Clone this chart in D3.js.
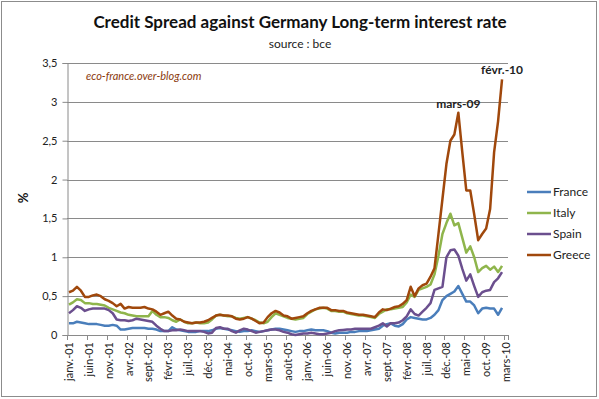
<!DOCTYPE html>
<html>
<head>
<meta charset="utf-8">
<script src="https://cdn.jsdelivr.net/npm/d3@7"></script>
<style>
  body { margin: 0; background: #fff; }
  svg { font-family: Lato, "Open Sans", sans-serif; }
</style>
</head>
<body>
<div id="chart"></div>
<script>
// month names used for the category axis
const monthNames = ["janv.", "févr.", "mars", "avr.", "mai", "juin", "juil.", "août", "sept.", "oct.", "nov.", "déc."];
const startYear = 2001;
const nCategories = 111; // janv.-01 .. mars-10

const yTicks = [0, 0.5, 1, 1.5, 2, 2.5, 3, 3.5];

// spread vs Germany, %, monthly from janv.-01 to févr.-10
const france = [
  0.15, 0.15, 0.17, 0.16, 0.15, 0.14, 0.14, 0.14, 0.13, 0.12,
  0.12, 0.13, 0.12, 0.07, 0.07, 0.08, 0.09, 0.09, 0.09, 0.09,
  0.08, 0.08, 0.07, 0.05, 0.05, 0.05, 0.10, 0.07, 0.06, 0.05,
  0.04, 0.04, 0.04, 0.05, 0.05, 0.05, 0.06, 0.08, 0.09, 0.08,
  0.07, 0.06, 0.05, 0.04, 0.05, 0.05, 0.06, 0.05, 0.04, 0.05,
  0.06, 0.07, 0.08, 0.08, 0.07, 0.06, 0.05, 0.04, 0.05, 0.05,
  0.06, 0.07, 0.06, 0.06, 0.06, 0.05, 0.03, 0.02, 0.03, 0.03,
  0.03, 0.04, 0.04, 0.05, 0.05, 0.05, 0.06, 0.07, 0.08, 0.12,
  0.14, 0.15, 0.12, 0.11, 0.14, 0.20, 0.23, 0.22, 0.21, 0.20,
  0.20, 0.22, 0.26, 0.32, 0.45, 0.50, 0.53, 0.56, 0.63, 0.53,
  0.43, 0.43, 0.38, 0.28, 0.34, 0.35, 0.34, 0.34, 0.26, 0.35
];
const italy = [
  0.39, 0.42, 0.46, 0.45, 0.41, 0.41, 0.40, 0.40, 0.39, 0.38,
  0.35, 0.33, 0.31, 0.29, 0.28, 0.26, 0.25, 0.24, 0.24, 0.24,
  0.24, 0.31, 0.26, 0.23, 0.23, 0.22, 0.19, 0.17, 0.20, 0.17,
  0.15, 0.15, 0.16, 0.15, 0.15, 0.16, 0.20, 0.25, 0.26, 0.25,
  0.24, 0.24, 0.22, 0.21, 0.22, 0.23, 0.21, 0.19, 0.16, 0.15,
  0.17, 0.23, 0.28, 0.26, 0.24, 0.22, 0.21, 0.20, 0.21, 0.22,
  0.27, 0.30, 0.33, 0.34, 0.35, 0.34, 0.31, 0.31, 0.30, 0.30,
  0.28, 0.27, 0.26, 0.25, 0.25, 0.24, 0.23, 0.22, 0.27, 0.30,
  0.33, 0.33, 0.34, 0.35, 0.36, 0.42, 0.52, 0.49, 0.58, 0.60,
  0.62, 0.65, 0.78, 1.02, 1.30, 1.44, 1.56, 1.41, 1.44, 1.25,
  1.06, 1.14, 1.00, 0.81, 0.86, 0.89, 0.84, 0.88, 0.81, 0.89
];
const spain = [
  0.28, 0.32, 0.37, 0.35, 0.31, 0.33, 0.34, 0.34, 0.34, 0.34,
  0.32, 0.28, 0.20, 0.19, 0.19, 0.18, 0.19, 0.21, 0.20, 0.19,
  0.18, 0.17, 0.12, 0.08, 0.05, 0.05, 0.06, 0.06, 0.07, 0.06,
  0.05, 0.05, 0.05, 0.05, 0.04, 0.02, 0.03, 0.09, 0.10, 0.08,
  0.08, 0.05, 0.03, 0.06, 0.08, 0.07, 0.05, 0.03, 0.04, 0.05,
  0.06, 0.07, 0.07, 0.06, 0.04, 0.03, 0.01, 0.00, 0.01, 0.02,
  0.02, 0.03, 0.02, 0.01, 0.01, 0.02, 0.03, 0.05, 0.06, 0.065,
  0.07, 0.07, 0.08, 0.08, 0.08, 0.08, 0.08, 0.10, 0.12, 0.15,
  0.11, 0.15, 0.15, 0.16, 0.19, 0.24, 0.33, 0.27, 0.25, 0.30,
  0.35, 0.41, 0.58, 0.60, 0.62, 1.00, 1.09, 1.10, 1.02, 0.85,
  0.70, 0.78, 0.63, 0.49, 0.55, 0.57, 0.58, 0.68, 0.73, 0.81
];
const greece = [
  0.55, 0.57, 0.62, 0.57, 0.49, 0.49, 0.51, 0.52, 0.50, 0.46,
  0.44, 0.41, 0.37, 0.40, 0.34, 0.36, 0.35, 0.35, 0.35, 0.36,
  0.34, 0.33, 0.30, 0.26, 0.28, 0.30, 0.25, 0.21, 0.20, 0.17,
  0.16, 0.15, 0.16, 0.16, 0.17, 0.19, 0.22, 0.25, 0.26, 0.25,
  0.25, 0.24, 0.21, 0.20, 0.21, 0.23, 0.21, 0.18, 0.15, 0.16,
  0.23, 0.28, 0.31, 0.29, 0.25, 0.24, 0.21, 0.22, 0.23, 0.24,
  0.28, 0.31, 0.33, 0.35, 0.35, 0.35, 0.32, 0.32, 0.31, 0.31,
  0.29, 0.28, 0.27, 0.26, 0.26, 0.25, 0.24, 0.23, 0.29, 0.33,
  0.32, 0.34, 0.36, 0.37, 0.40, 0.45, 0.62, 0.50, 0.60, 0.64,
  0.66, 0.75, 0.86, 1.30, 1.75, 2.20, 2.50, 2.58, 2.86, 2.35,
  1.86, 1.86, 1.55, 1.22, 1.30, 1.37, 1.62, 2.35, 2.75, 3.29
];

const seriesNames = ["France", "Italy", "Spain", "Greece"];
const seriesColors = ["#4a7ebb", "#8fb54c", "#6b4f8e", "#a0480c"];
const seriesValues = [france, italy, spain, greece];

// labelled points on the Greece line
const callouts = [{ index: 98, text: "mars-09" }, { index: 109, text: "févr.-10" }];

const width = 599, height = 399;
const plot = { left: 67, right: 508, top: 63, bottom: 335 };

const categories = d3.range(nCategories);
const catLabel = i => monthNames[i % 12] + "-" + String((startYear + Math.floor(i / 12)) % 100).padStart(2, "0");

const svg = d3.select("#chart").append("svg")
  .attr("width", width)
  .attr("height", height);

// chart frame
svg.append("rect")
  .attr("x", 1.5).attr("y", 1.5)
  .attr("width", 595).attr("height", 395)
  .attr("fill", "#fff")
  .attr("stroke", "#8c8c8c");

const x = d3.scaleBand()
  .domain(categories)
  .range([plot.left, plot.right]);

const y = d3.scaleLinear()
  .domain([0, 3.5])
  .range([plot.bottom, plot.top]);

const xc = i => x(i) + x.bandwidth() / 2;

// horizontal gridlines
svg.append("g")
  .selectAll("line")
  .data(yTicks.slice(1))
  .join("line")
  .attr("x1", plot.left).attr("x2", plot.right)
  .attr("y1", d => Math.round(y(d)) + 0.5).attr("y2", d => Math.round(y(d)) + 0.5)
  .attr("stroke", "#8a8a8a");

// y axis
const yAxis = svg.append("g")
  .attr("transform", `translate(${plot.left + 0.5},0)`)
  .call(d3.axisLeft(y).tickValues(yTicks).tickSize(5).tickPadding(5)
    .tickFormat(d => String(d).replace(".", ",")));
yAxis.select(".domain").attr("stroke", "#8a8a8a");
yAxis.selectAll(".tick line").attr("stroke", "#8a8a8a");
yAxis.selectAll(".tick text").attr("font-size", 11).attr("fill", "#222")
  .attr("font-family", "Lato, sans-serif");

// x axis: ticks every 5 categories, labels rotated
const tickIdx = d3.range(0, nCategories, 5);
const xAxis = svg.append("g");
xAxis.append("line")
  .attr("x1", plot.left).attr("x2", plot.right)
  .attr("y1", plot.bottom + 0.5).attr("y2", plot.bottom + 0.5)
  .attr("stroke", "#8a8a8a");
xAxis.selectAll(".tk")
  .data(tickIdx.map(i => x(i)).concat([plot.right]))
  .join("line")
  .attr("class", "tk")
  .attr("x1", d => Math.round(d) + 0.5).attr("x2", d => Math.round(d) + 0.5)
  .attr("y1", plot.bottom).attr("y2", plot.bottom + 5)
  .attr("stroke", "#8a8a8a");
xAxis.selectAll("text")
  .data(tickIdx)
  .join("text")
  .attr("transform", i => `translate(${xc(i) + 4},${plot.bottom + 7}) rotate(-90)`)
  .attr("text-anchor", "end")
  .attr("font-size", 11)
  .attr("fill", "#222")
  .text(catLabel);

// series lines
const line = d3.line()
  .x((d, i) => xc(i))
  .y(d => y(d));

svg.append("g")
  .selectAll("path")
  .data(seriesValues)
  .join("path")
  .attr("d", line)
  .attr("fill", "none")
  .attr("stroke", (d, i) => seriesColors[i])
  .attr("stroke-width", 2.5)
  .attr("stroke-linejoin", "round");

// callouts on Greece
svg.append("g")
  .selectAll("text")
  .data(callouts)
  .join("text")
  .attr("x", d => xc(d.index))
  .attr("y", d => y(greece[d.index]) - 5)
  .attr("text-anchor", "middle")
  .attr("font-size", 12)
  .attr("font-weight", "bold")
  .attr("fill", "#222")
  .text(d => d.text);

// title and subtitle
svg.append("text")
  .attr("x", 300).attr("y", 28)
  .attr("text-anchor", "middle")
  .attr("font-size", 17)
  .attr("font-weight", "bold")
  .attr("fill", "#111")
  .text("Credit Spread against Germany Long-term interest rate");

svg.append("text")
  .attr("x", 300).attr("y", 48)
  .attr("text-anchor", "middle")
  .attr("font-size", 12)
  .attr("fill", "#222")
  .text("source : bce");

// watermark
svg.append("text")
  .attr("x", 86).attr("y", 80)
  .attr("font-size", 11)
  .attr("font-style", "italic")
  .attr("fill", "#8b3a0e")
  .text("eco-france.over-blog.com");

// y axis title
svg.append("text")
  .attr("transform", "translate(28,198) rotate(-90)")
  .attr("text-anchor", "middle")
  .attr("font-size", 13)
  .attr("font-weight", "bold")
  .attr("fill", "#111")
  .text("%");

// legend
const legend = svg.append("g")
  .selectAll("g")
  .data(seriesNames)
  .join("g")
  .attr("transform", (d, i) => `translate(527,${192 + i * 21})`);
legend.append("line")
  .attr("x1", 0).attr("x2", 24)
  .attr("stroke", (d, i) => seriesColors[i])
  .attr("stroke-width", 2.5);
legend.append("text")
  .attr("x", 26).attr("y", 4)
  .attr("font-size", 12)
  .attr("fill", "#222")
  .text(d => d);
</script>
</body>
</html>
